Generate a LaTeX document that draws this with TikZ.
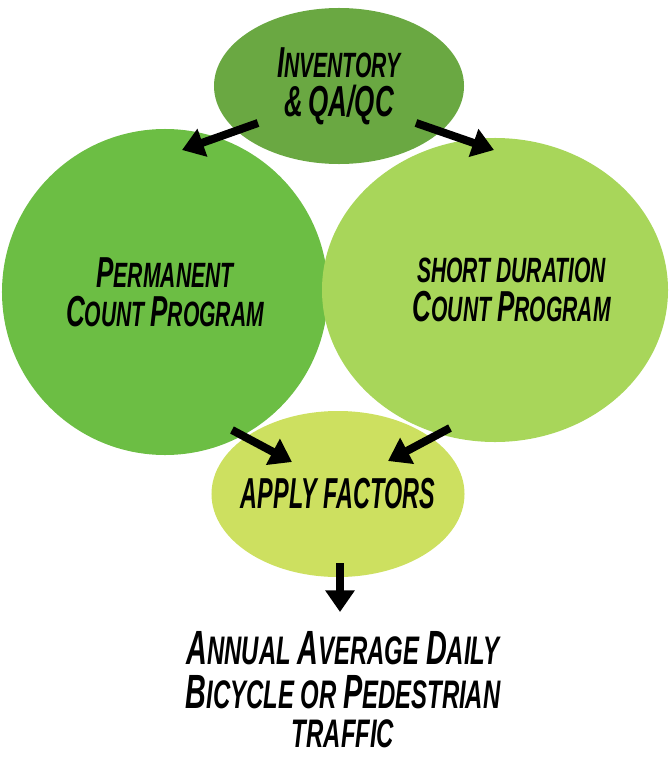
\documentclass[tikz,border=0pt]{standalone}
\usepackage{fontspec}
\usetikzlibrary{shapes.geometric,arrows.meta}
\newfontfamily\lblfont[FakeStretch=0.6]{Liberation Sans}
\newfontfamily\aadtfont[FakeStretch=0.6]{Liberation Sans}
\definecolor{invgreen}{HTML}{6AA842}
\definecolor{permgreen}{HTML}{6CBE44}
\definecolor{shortgreen}{HTML}{A8D65A}
\definecolor{applygreen}{HTML}{CDE060}
% big first letters of the fake small caps
\newcommand\capa[1]{{\fontsize{37}{31}\selectfont#1}}
\newcommand\capb[1]{{\fontsize{41}{32}\selectfont#1}}
\begin{document}
\begin{tikzpicture}[x=0.03cm,y=-0.03cm,
  blob/.style={ellipse,inner sep=-2cm,align=center,
    font=\lblfont\bfseries\itshape\fontsize{30}{31}\selectfont},
  arr/.style={line width=2.4mm,-{Triangle[length=6.5mm,width=8.5mm]}}]
\useasboundingbox (0,0) rectangle (671,759);
\node[blob,fill=invgreen,minimum width=7.5cm,minimum height=4.68cm] (inv) at (339,86)
  {\capa{I}NVENTORY\\[2pt]\capa{\&} \capa{QA/QC}};
\node[blob,fill=permgreen,minimum width=9.78cm,minimum height=9.78cm] (perm) at (165,292)
  {\capa{P}ERMANENT\\[2pt]\capa{C}OUNT \capa{P}ROGRAM};
\node[blob,fill=shortgreen,minimum width=10.38cm,minimum height=9.12cm] (short) at (495,290)
  {\hspace*{1cm}SHORT DURATION\\[2pt]\hspace*{1cm}\capa{C}OUNT \capa{P}ROGRAM};
\node[blob,fill=applygreen,minimum width=7.59cm,minimum height=4.98cm] (apply) at (338,494)
  {\scalebox{0.9}[1]{\capa{APPLY FACTORS}}};
\node[inner sep=0pt,font=\aadtfont\bfseries\itshape\fontsize{34}{32}\selectfont,align=center] (aadt) at (343,690)
  {\capb{A}NNUAL \capb{A}VERAGE \capb{D}AILY\\[5pt]\capb{B}ICYCLE OR \capb{P}EDESTRIAN\\[2pt]TRAFFIC};
% arrows
\draw[arr] ([shift={(-81,37)}]inv.center) -- ([shift={(17,-142)}]perm.center);
\draw[arr] ([shift={(77,37)}]inv.center) -- ([shift={(-1,-140)}]short.center);
\draw[arr] ([shift={(67,138)}]perm.center) -- ([shift={(-46,-32)}]apply.center);
\draw[arr] ([shift={(-45,138)}]short.center) -- ([shift={(50,-33)}]apply.center);
\draw[arr] ([shift={(2,69)}]apply.center) -- ([shift={(-3,-78)}]aadt.center);
\end{tikzpicture}
\end{document}
